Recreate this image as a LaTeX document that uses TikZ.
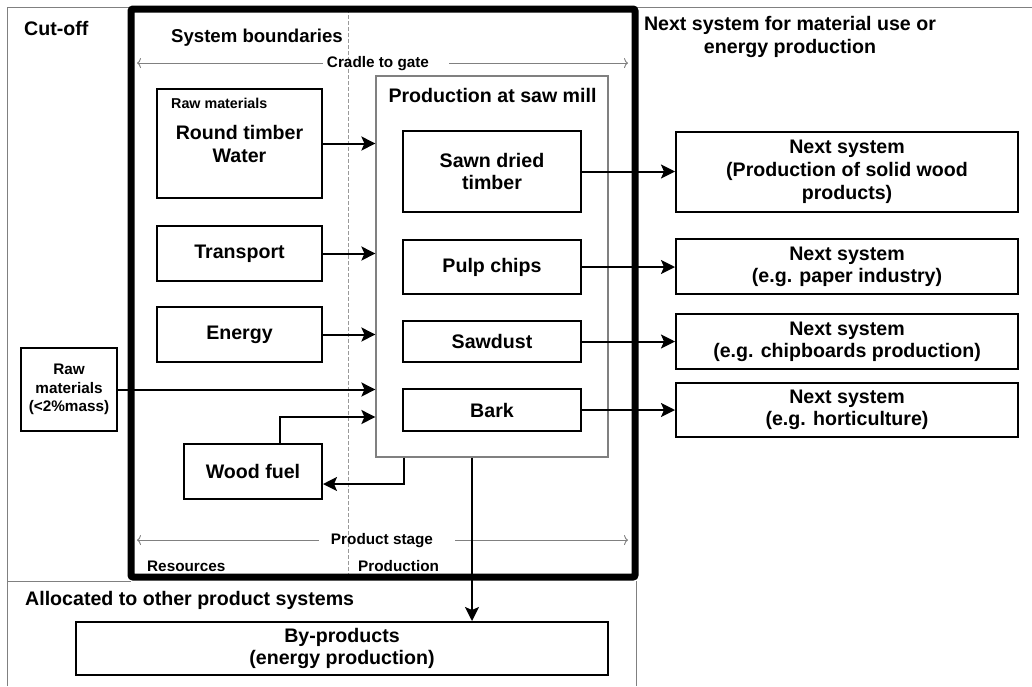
\documentclass[tikz,border=0pt]{standalone}
\usepackage{fontspec}
\setmainfont{Liberation Sans}
\usetikzlibrary{arrows.meta}
\begin{document}
\begin{tikzpicture}[x=1pt,y=-1pt,
  box/.style={draw=black, line width=2pt, align=center, inner sep=0pt, font=\fontsize{19.6}{22}\selectfont\bfseries},
  arr/.style={draw=black, line width=2pt, -{Stealth[length=14pt,width=14pt,inset=3pt]}},
  thinarr/.style={draw=black!50, line width=0.9pt, -{To[length=4pt,width=10pt]}},
  frame/.style={draw=black!50, line width=1pt},
  lbl/.style={inner sep=0pt, font=\fontsize{19.6}{22}\selectfont\bfseries},
  slbl/.style={inner sep=0pt, font=\fontsize{15.3}{18}\selectfont\bfseries},
]
\useasboundingbox (0,0) rectangle (1032,686);
% outer gray frame
\draw[frame] (7,686) -- (7,7) -- (1032,7);
\draw[frame] (7,581) -- (131,581);
\draw[frame] (636,581) -- (636,686);
% dashed divider
\draw[draw=black!40, line width=1pt, dash pattern=on 4pt off 2pt] (348,9) -- (348,577);
% thick system boundary
\draw[line width=7pt, rounded corners=2pt] (131,9) rectangle (635,577);

% headings
\node[lbl, anchor=base west] (cutoff) at (24,35) {Cut-off};
\node[lbl, anchor=base west, font=\fontsize{18.6}{22}\selectfont\bfseries] (sysb) at (171,42) {System boundaries};
\node[lbl, anchor=north, align=center, font=\fontsize{19.6}{23}\selectfont\bfseries] (nexth) at (790,16) {Next system for material use or\\energy production};
\node[lbl, anchor=base west] (alloc) at (25,605) {Allocated to other product systems};
\node[slbl, anchor=base west] (res) at (147,571) {Resources};
\node[slbl, anchor=base west] (prodl) at (358,571) {Production};

% cradle to gate
\node[slbl, anchor=base] (cg) at (378,67) {Cradle to gate};
\coordinate (cgL) at (137,62);
\coordinate (cgR) at (628,62);
\draw[thinarr] ([xshift=-4pt]cg.west) -- (cg.west -| cgL);
\draw[thinarr] ([xshift=20pt]cg.east) -- (cg.east -| cgR);

% product stage
\node[slbl, anchor=base] (ps) at (382,544) {Product stage};
\coordinate (psL) at (137,539);
\coordinate (psR) at (628,539);
\draw[thinarr] ([xshift=-12pt]ps.west) -- (ps.west -| psL);
\draw[thinarr] ([xshift=22pt]ps.east) -- (ps.east -| psR);

% production box
\node[draw=black!50, line width=1.2pt, minimum width=232pt, minimum height=381pt, inner sep=0pt] (prod) at (492,266.5) {};
\node[lbl, anchor=base] (prodt) at (492.5,102) {Production at saw mill};

% left boxes
\node[box, minimum width=165pt, minimum height=109pt] (rawm) at (239.5,143.5) {};
\node[inner sep=0pt, anchor=base west, font=\fontsize{14.3}{16}\selectfont\bfseries] (rawt) at (171,108) {Raw materials};
\node[lbl, anchor=base] (rt) at (239.5,139) {Round timber};
\node[lbl, anchor=base] (wt) at (239.5,162) {Water};
\node[box, minimum width=165pt, minimum height=55pt] (trans) at (239.5,253.5) {Transport};
\node[box, minimum width=165pt, minimum height=55pt] (energy) at (239.5,334.5) {Energy};
\node[box, minimum width=96pt, minimum height=83pt, font=\fontsize{15.3}{18.5}\selectfont\bfseries] (rawsm) at (69,389.5) {Raw\\materials\\(<2\%mass)};
\node[box, minimum width=138pt, minimum height=55pt] (wood) at (253,471.5) {Wood fuel};

% product boxes
\node[box, minimum width=178pt, minimum height=81pt] (sawn) at (492,171.5) {Sawn dried\\timber};
\node[box, minimum width=178pt, minimum height=54pt] (pulp) at (492,267) {Pulp chips};
\node[box, minimum width=178pt, minimum height=41pt] (sawd) at (492,341.5) {Sawdust};
\node[box, minimum width=178pt, minimum height=42pt] (bark) at (492,410) {Bark};

% next systems
\node[box, minimum width=342pt, minimum height=80pt, font=\fontsize{19.6}{23}\selectfont\bfseries] (n1) at (847,172) {Next system\\(Production of solid wood\\products)};
\node[box, minimum width=342pt, minimum height=55pt] (n2) at (847,266.5) {Next system\\(e.g. paper industry)};
\node[box, minimum width=342pt, minimum height=55pt] (n3) at (847,341.5) {Next system\\(e.g. chipboards production)};
\node[box, minimum width=342pt, minimum height=54pt] (n4) at (847,410) {Next system\\(e.g. horticulture)};

% by-products
\node[box, minimum width=532pt, minimum height=53pt] (byp) at (342,648.5) {By-products\\(energy production)};

% input arrows
\draw[arr] (rawm.east) -- (rawm.east -| prod.west);
\draw[arr] (trans.east) -- (trans.east -| prod.west);
\draw[arr] (energy.east) -- (energy.east -| prod.west);
\draw[arr] (rawsm.east) -- (rawsm.east -| prod.west);
\draw[arr] ([xshift=27pt]wood.north) |- ([yshift=-150.5pt]prod.west);
\draw[arr] ([xshift=-88pt]prod.south) |- ([yshift=-12.5pt]wood.east);
\draw[arr] ([xshift=-20pt]prod.south) -- ([xshift=130pt]byp.north);

% output arrows
\draw[arr] (sawn.east) -- (sawn.east -| n1.west);
\draw[arr] (pulp.east) -- (pulp.east -| n2.west);
\draw[arr] (sawd.east) -- (sawd.east -| n3.west);
\draw[arr] (bark.east) -- (bark.east -| n4.west);
\end{tikzpicture}
\end{document}
